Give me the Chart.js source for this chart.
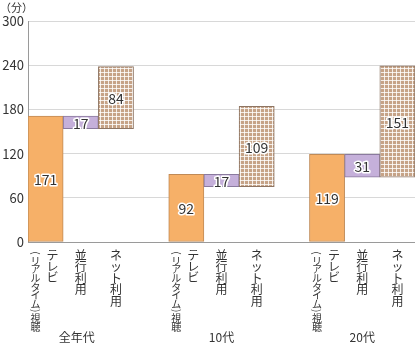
<!DOCTYPE html>
<html>
<head>
<meta charset="utf-8">
<script src="https://cdn.jsdelivr.net/npm/chart.js@4"></script>
<style>
html,body{margin:0;padding:0;background:#fff;}
#wrap{width:415px;height:343px;position:relative;}
</style>
</head>
<body>
<div id="wrap"><canvas id="c" width="415" height="343"></canvas></div>
<script>
// ---- data ----
const groups = ['全年代', '10代', '20代'];
const itemLabels = ['テレビ（リアルタイム）視聴', '並行利用', 'ネット利用'];
const tvValues = [171, 92, 119];
const parallelValues = [17, 17, 31];
const netValues = [84, 109, 151];
const yTicks = [0, 60, 120, 180, 240, 300];
const unitLabel = '（分）';

// ---- build ----
const FONT = "'Noto Sans CJK JP', 'Noto Sans', sans-serif";
function makePattern() {
  const c = document.createElement('canvas');
  c.width = 4; c.height = 4;
  const g = c.getContext('2d');
  g.fillStyle = '#C6A387';
  g.fillRect(0, 0, 4, 4);
  g.fillStyle = 'rgba(255,255,255,0.8)';
  g.fillRect(0, 0, 4, 1);
  g.fillRect(0, 0, 1, 4);
  return g.createPattern(c, 'repeat');
}
const netPattern = makePattern();

const labels = [], data = [], shown = [], bg = [], bc = [], kinds = [], groupOf = [];
groups.forEach((gname, gi) => {
  if (gi > 0) { labels.push(''); data.push(null); shown.push(null); bg.push('transparent'); bc.push('transparent'); kinds.push(null); groupOf.push(null); }
  const tv = tvValues[gi], par = parallelValues[gi], net = netValues[gi];
  const base = tv - par;
  labels.push(gname + '|0'); data.push([0, tv]); shown.push(tv); bg.push('#F6B068'); bc.push('#C08A56'); kinds.push(0); groupOf.push(gi);
  labels.push(gname + '|1'); data.push([base, tv]); shown.push(par); bg.push('#C5B0DA'); bc.push('#8A7A9E'); kinds.push(1); groupOf.push(gi);
  labels.push(gname + '|2'); data.push([base, base + net]); shown.push(net); bg.push(netPattern); bc.push('#8E7563'); kinds.push(2); groupOf.push(gi);
});

function drawVertical(ctx, text, x, y, size, step) {
  ctx.font = size + 'px ' + FONT;
  ctx.textAlign = 'center';
  ctx.textBaseline = 'top';
  let cy = y;
  for (const ch of text) {
    if (ch === '（' || ch === '）') {
      const h = 6;
      ctx.save();
      ctx.translate(x, cy + h / 2);
      ctx.rotate(Math.PI / 2);
      ctx.textBaseline = 'middle';
      ctx.fillText(ch === '（' ? '(' : ')', 0, 0);
      ctx.restore();
      cy += h;
    } else {
      ctx.fillText(ch, x, cy);
      cy += step;
    }
  }
}

const labelPlugin = {
  id: 'labelsPlugin',
  afterDatasetsDraw(chart) {
    const ctx = chart.ctx;
    const meta = chart.getDatasetMeta(0);
    ctx.save();
    // value labels
    ctx.font = '14px ' + FONT;
    ctx.textAlign = 'center';
    ctx.textBaseline = 'middle';
    ctx.lineJoin = 'round';
    meta.data.forEach((el, i) => {
      if (shown[i] == null) return;
      const cy = (el.y + el.base) / 2;
      ctx.lineWidth = 3;
      ctx.strokeStyle = '#fff';
      ctx.strokeText(String(shown[i]), el.x, cy + 1);
      ctx.fillStyle = '#333';
      ctx.fillText(String(shown[i]), el.x, cy + 1);
    });
    // category labels (vertical)
    const xs = chart.scales.x;
    const top = chart.chartArea.bottom + 7;
    ctx.fillStyle = '#333';
    meta.data.forEach((el, i) => {
      if (kinds[i] == null) return;
      const cx = xs.getPixelForValue(i);
      if (kinds[i] === 0) {
        const name = itemLabels[0];
        const p = name.indexOf('（');
        drawVertical(ctx, name.slice(0, p), cx + 7, top, 12, 11.2);
        drawVertical(ctx, name.slice(p), cx - 10, top + 1, 10, 8.6);
      } else {
        drawVertical(ctx, itemLabels[kinds[i]], cx, top, 12, 11.6);
      }
      if (kinds[i] === 1) {
        ctx.font = '12px ' + FONT;
        ctx.textAlign = 'center';
        ctx.textBaseline = 'middle';
        ctx.fillText(groups[groupOf[i]], cx - (groupOf[i] === 0 ? 4 : 0), 337);
      }
    });
    // unit
    ctx.font = '11px ' + FONT;
    ctx.textAlign = 'left';
    ctx.textBaseline = 'middle';
    ctx.fillText(unitLabel, 0, 8);
    ctx.restore();
  }
};

new Chart(document.getElementById('c'), {
  type: 'bar',
  data: {
    labels: labels,
    datasets: [{
      data: data,
      backgroundColor: bg,
      borderColor: bc,
      borderWidth: 1,
      borderSkipped: false,
      barPercentage: 1,
      categoryPercentage: 1
    }]
  },
  options: {
    responsive: false,
    animation: false,
    devicePixelRatio: 1,
    layout: { padding: { top: 21, right: 0, bottom: 101, left: 0 } },
    plugins: { legend: { display: false }, tooltip: { enabled: false } },
    scales: {
      x: {
        ticks: { display: false },
        grid: { display: false },
        border: { display: true, color: '#9a9a9a' },
        afterFit: (s) => { s.height = 0; }
      },
      y: {
        min: 0, max: 300,
        afterBuildTicks: (s) => { s.ticks = yTicks.map(v => ({ value: v })); },
        afterFit: (s) => { s.width = 28; },
        ticks: { color: '#333', font: { size: 13, family: FONT }, padding: 4 },
        grid: { color: '#d8d8d8', drawTicks: false },
        border: { display: true, color: '#9a9a9a' }
      }
    }
  },
  plugins: [labelPlugin]
});
</script>
</body>
</html>
